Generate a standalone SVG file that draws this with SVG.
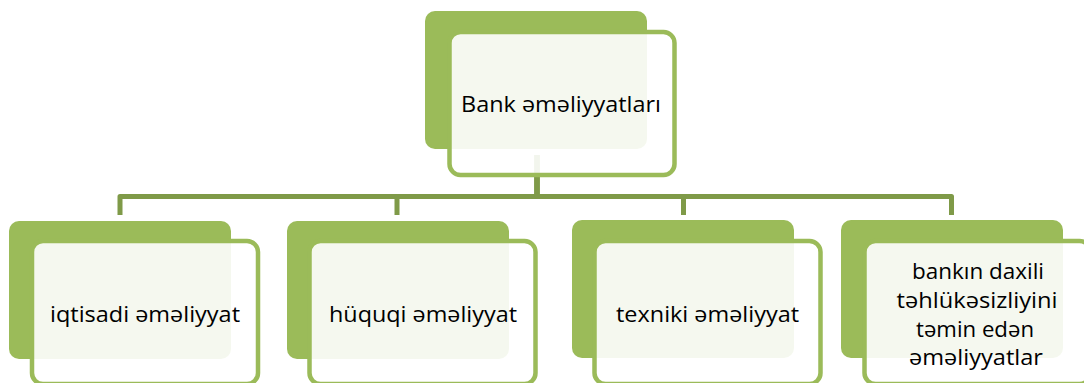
<svg xmlns="http://www.w3.org/2000/svg" width="1084" height="383" viewBox="0 0 1084 383">
  <style>
    .back { fill: #9BBB59; }
    .front { fill: #FFFFFF; fill-opacity: 0.9; stroke: #9BBB59; stroke-width: 4.5; }
    .link { fill: none; stroke: #7F9A48; stroke-width: 5; stroke-linejoin: round; }
    .label { font-family: "Open Sans", "Noto Sans", "DejaVu Sans", sans-serif; font-size: 22.5px; fill: #000000; text-anchor: middle; }
  </style>
  <rect width="1084" height="383" fill="#FFFFFF"/>

  <!-- elbow connectors from the root to each child -->
  <g id="connectors">
    <path class="link" d="M537 155 V196.5 H120 V215"/>
    <path class="link" d="M537 155 V196.5 H397 V215"/>
    <path class="link" d="M537 155 V196.5 H683.5 V215"/>
    <path class="link" d="M537 155 V196.5 H951.5 V215"/>
  </g>

  <g id="node-root">
    <rect class="back" x="425" y="11" width="222" height="138" rx="10"/>
    <rect class="front" x="449.5" y="32" width="225" height="143" rx="11"/>
    <text class="label" x="561" y="112" textLength="200" lengthAdjust="spacingAndGlyphs">Bank əməliyyatları</text>
  </g>

  <g id="node-iqtisadi">
    <rect class="back" x="9" y="221" width="222" height="138" rx="10"/>
    <rect class="front" x="32" y="241" width="226" height="143" rx="11"/>
    <text class="label" x="145" y="322" textLength="190" lengthAdjust="spacingAndGlyphs">iqtisadi əməliyyat</text>
  </g>

  <g id="node-huquqi">
    <rect class="back" x="287" y="221" width="222" height="138" rx="10"/>
    <rect class="front" x="309.5" y="241" width="226" height="143" rx="11"/>
    <text class="label" x="423" y="322" textLength="188" lengthAdjust="spacingAndGlyphs">hüquqi əməliyyat</text>
  </g>

  <g id="node-texniki">
    <rect class="back" x="572" y="220" width="222" height="138" rx="10"/>
    <rect class="front" x="594.5" y="241" width="226" height="143" rx="11"/>
    <text class="label" x="707.5" y="322" textLength="183" lengthAdjust="spacingAndGlyphs">texniki əməliyyat</text>
  </g>

  <g id="node-daxili">
    <rect class="back" x="841" y="220" width="222" height="138" rx="10"/>
    <rect class="front" x="864.5" y="241" width="226" height="143" rx="11"/>
    <text class="label" x="978" y="279" textLength="132" lengthAdjust="spacingAndGlyphs">bankın daxili</text>
    <text class="label" x="977" y="308" textLength="161" lengthAdjust="spacingAndGlyphs">təhlükəsizliyini</text>
    <text class="label" x="975" y="337" textLength="118" lengthAdjust="spacingAndGlyphs">təmin edən</text>
    <text class="label" x="976" y="365" textLength="134" lengthAdjust="spacingAndGlyphs">əməliyyatlar</text>
  </g>
</svg>
